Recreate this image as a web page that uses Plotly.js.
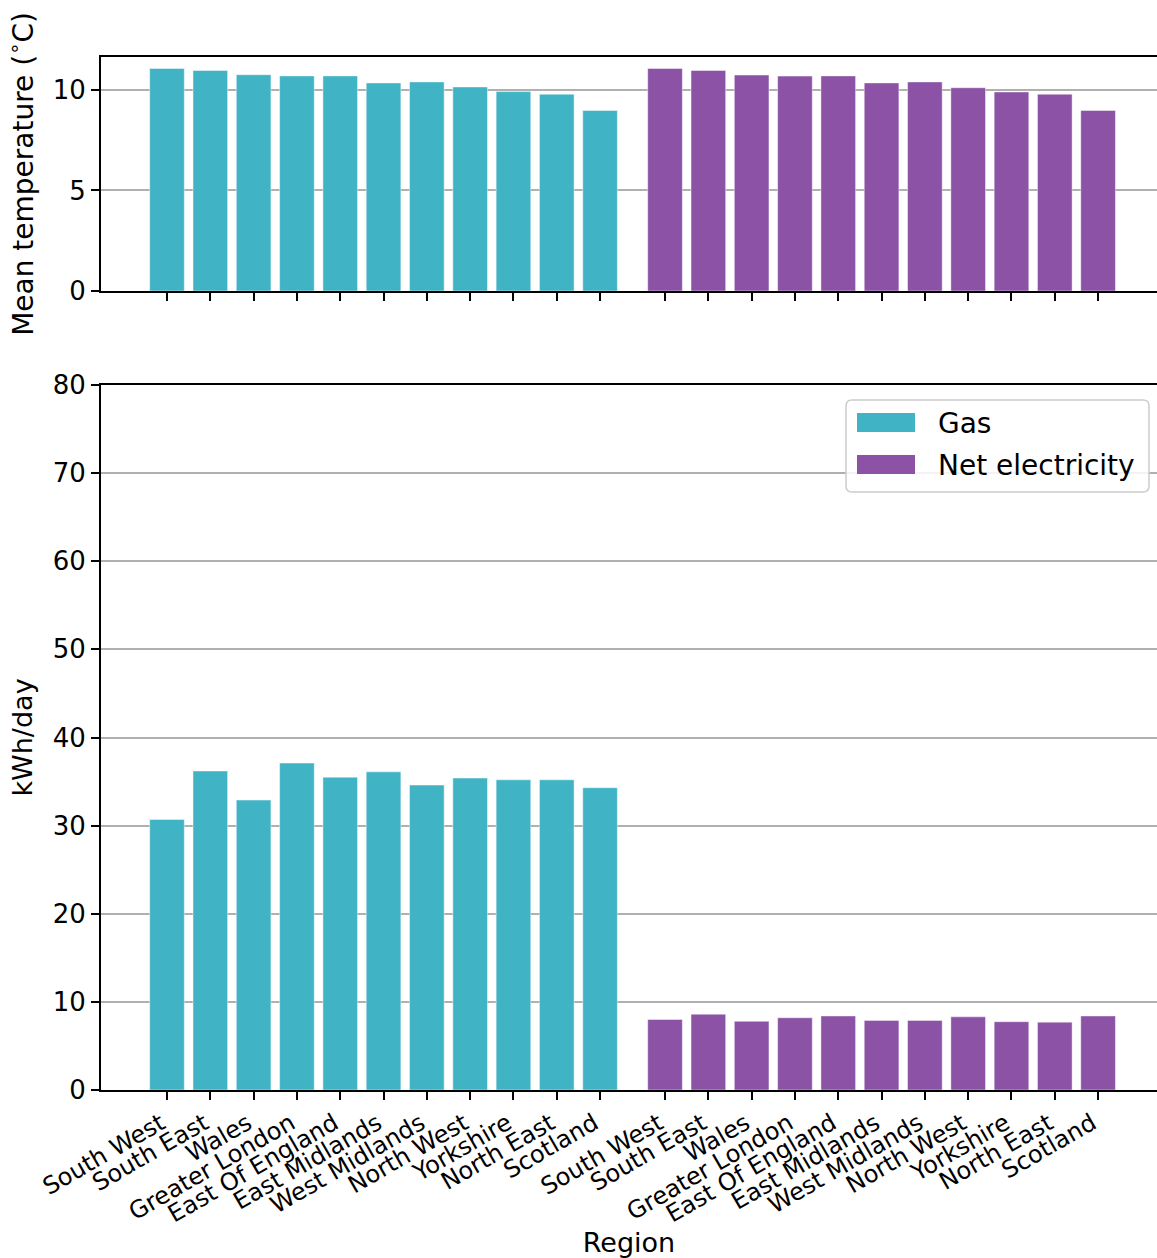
<!DOCTYPE html>
<html>
<head>
<meta charset="utf-8">
<script src="https://cdn.plot.ly/plotly-3.0.1.min.js"></script>
<style>
html,body{margin:0;padding:0;background:#fff;overflow:hidden;}
#chart{width:1157px;height:1258px;}
</style>
</head>
<body>
<div id="chart"></div>
<script>
// ---- data ----
const regions = ["South West","South East","Wales","Greater London","East Of England","East Midlands","West Midlands","North West","Yorkshire","North East","Scotland"];
const seriesNames = ["Gas","Net electricity"];
const gasTemp = [11.07,10.97,10.76,10.70,10.70,10.35,10.40,10.15,9.92,9.79,8.98];
const elecTemp = [11.07,10.97,10.74,10.69,10.70,10.35,10.40,10.11,9.90,9.79,8.98];
const gasKwh = [30.7,36.2,32.9,37.1,35.5,36.1,34.6,35.4,35.2,35.2,34.3];
const elecKwh = [8.0,8.6,7.8,8.2,8.4,7.9,7.9,8.3,7.75,7.7,8.4];
const tempTicks = [0,5,10];
const kwhTicks = [0,10,20,30,40,50,60,70,80];

// ---- styling / layout ----
const colors = ["#40b4c4","#8b52a5"];
const groupOffset = 11.5;
const gasX = regions.map((_, i) => i);
const elecX = regions.map((_, i) => i + groupOffset);
const tickVals = gasX.concat(elecX);
const tickText = regions.concat(regions);
const font = "DejaVu Sans, Liberation Sans, sans-serif";

function bar(x, y, name, color, yaxis) {
  return {
    type: "bar", x: x, y: y, name: name, width: 0.8,
    marker: {color: color, line: {color: "rgba(255,255,255,0.45)", width: 1}},
    xaxis: yaxis === "y" ? "x" : "x2", yaxis: yaxis, showlegend: false,
    hoverinfo: "x+y"
  };
}

const traces = [
  bar(gasX, gasTemp, seriesNames[0], colors[0], "y"),
  bar(elecX, elecTemp, seriesNames[1], colors[1], "y"),
  bar(gasX, gasKwh, seriesNames[0], colors[0], "y2"),
  bar(elecX, elecKwh, seriesNames[1], colors[1], "y2")
];

// pixel geometry helpers
const L = 101, R = 1157, T = 57, B = 1090;
const W = 1157, H = 1258;
const px = v => (v - L) / (R - L);
const py = v => (B - v) / (B - T);

const xRange = [-1.524, 22.86];
const axisCommon = {
  showline: true, linecolor: "#000", linewidth: 2,
  ticks: "outside", ticklen: 8, tickwidth: 2, tickcolor: "#000",
  zeroline: false
};

// custom legend (matplotlib style box)
function roundRect(x0, y0, x1, y1, r) {
  const X0 = px(x0), X1 = px(x1), Y0 = py(y0), Y1 = py(y1);
  const rx = r / (R - L), ry = r / (B - T);
  return `M${X0+rx},${Y0} L${X1-rx},${Y0} Q${X1},${Y0} ${X1},${Y0-ry} L${X1},${Y1+ry} Q${X1},${Y1} ${X1-rx},${Y1} L${X0+rx},${Y1} Q${X0},${Y1} ${X0},${Y1+ry} L${X0},${Y0-ry} Q${X0},${Y0} ${X0+rx},${Y0} Z`;
}
const legendItems = [{y0: 413, y1: 432}, {y0: 455, y1: 474}];
const shapes = [{
  type: "path", xref: "paper", yref: "paper", path: roundRect(846, 400, 1149, 492, 6),
  fillcolor: "rgba(255,255,255,0.85)", line: {color: "#cccccc", width: 1.5}, layer: "above"
}];
const annotations = [];
legendItems.forEach((it, i) => {
  shapes.push({type: "rect", xref: "paper", yref: "paper",
    x0: px(857), x1: px(915), y0: py(it.y1), y1: py(it.y0),
    fillcolor: colors[i], line: {color: colors[i], width: 0}, layer: "above"});
  annotations.push({xref: "paper", yref: "paper", x: px(936), y: py((it.y0 + it.y1) / 2 + 1),
    xanchor: "left", yanchor: "middle", text: seriesNames[i], showarrow: false,
    font: {family: font, size: 28, color: "#000"}});
});

const layout = {
  width: W, height: H,
  margin: {l: L, r: W - R, t: T, b: H - B, pad: 0},
  paper_bgcolor: "#fff", plot_bgcolor: "#fff",
  font: {family: font, color: "#000"},
  bargap: 0,
  xaxis: Object.assign({}, axisCommon, {
    anchor: "y", domain: [0, 1], range: xRange, mirror: true,
    tickmode: "array", tickvals: tickVals, ticktext: tickText, showticklabels: false,
    showgrid: false
  }),
  yaxis: Object.assign({}, axisCommon, {
    domain: [py(291), 1], range: [0, 11.64], tickmode: "array", tickvals: tempTicks,
    showgrid: true, gridcolor: "#b0b0b0", gridwidth: 2,
    tickfont: {family: font, size: 26},
    title: {text: "Mean temperature (<sup>∘</sup>C)", font: {family: font, size: 28}, standoff: 11}
  }),
  xaxis2: Object.assign({}, axisCommon, {
    anchor: "y2", domain: [0, 1], range: xRange, mirror: true,
    tickmode: "array", tickvals: tickVals, ticktext: tickText, tickangle: -30,
    ticklabelshift: -6,
    tickfont: {family: font, size: 24}, showgrid: false,
    title: {text: "Region", font: {family: font, size: 27}, standoff: 8}
  }),
  yaxis2: Object.assign({}, axisCommon, {
    domain: [0, py(385)], range: [0, 80], tickmode: "array", tickvals: kwhTicks,
    showgrid: true, gridcolor: "#b0b0b0", gridwidth: 2,
    tickfont: {family: font, size: 26},
    title: {text: "kWh/day", font: {family: font, size: 27}, standoff: 12}
  }),
  shapes: shapes,
  annotations: annotations
};

Plotly.newPlot("chart", traces, layout, {displayModeBar: false, staticPlot: true});
</script>
</body>
</html>
